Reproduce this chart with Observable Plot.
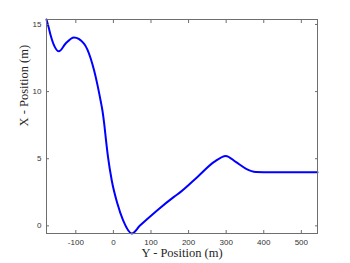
<!DOCTYPE html>
<html>
<head>
<meta charset="utf-8">
<script src="https://cdn.jsdelivr.net/npm/d3@7"></script>
<script src="https://cdn.jsdelivr.net/npm/@observablehq/plot@0.6"></script>
<style>
  html, body { margin: 0; padding: 0; background: #fff; }
  #chart svg { display: block; }
</style>
</head>
<body>
<div id="chart"></div>
<script>
// Trajectory: Y-position (horizontal) and X-position (vertical)
const yPos = [-178, -172, -167, -156, -145, -127, -105, -78.3, -60.4, -51.6, -42.3, -34.3, -29.3, -24.5, -19.7, -14.4, -4.5, 10.6, 25.6, 49, 70, 117, 161, 179, 223.6, 268, 299, 325.5, 352, 379, 420, 543];
const xPos = [15.37, 14.75, 14.2, 13.33, 13.0, 13.58, 14.03, 13.58, 12.47, 11.6, 10.48, 9.36, 8.61, 7.62, 6.38, 5.13, 3.4, 1.66, 0.42, -0.57, 0.0, 1.17, 2.16, 2.53, 3.64, 4.76, 5.21, 4.76, 4.27, 4.02, 4.0, 4.0];
const xTicks = [-100, 0, 100, 200, 300, 400, 500];
const yTicks = [0, 5, 10, 15];
const xLabel = "Y - Position (m)";
const yLabel = "X - Position (m)";

const data = yPos.map((v, i) => ({y: v, x: xPos[i]}));
const axisColor = "#6e6e6e";
const textColor = "#333";
const fmt = d => String(d);

const chart = Plot.plot({
  width: 350,
  height: 263,
  marginLeft: 46,
  marginRight: 33,
  marginTop: 19,
  marginBottom: 30,
  style: {fontFamily: "'Liberation Sans', Arial, sans-serif", fontSize: "8px", color: textColor, background: "#fff"},
  x: {domain: [-178, 543]},
  y: {domain: [-0.57, 15.37]},
  marks: [
    Plot.line(data, {x: "y", y: "x", stroke: "#0000ff", strokeWidth: 2, curve: "monotone-x"}),
    Plot.frame({stroke: axisColor, strokeWidth: 1}),
    Plot.axisX({anchor: "bottom", ticks: xTicks, tickSize: -3, tickPadding: 9, tickFormat: fmt, stroke: axisColor, label: null, fill: textColor}),
    Plot.axisX({anchor: "top", ticks: xTicks, tickSize: -3, tickFormat: () => "", stroke: axisColor, label: null}),
    Plot.axisY({anchor: "left", ticks: yTicks, tickSize: -3, tickPadding: 8, tickFormat: fmt, stroke: axisColor, label: null, fill: textColor}),
    Plot.axisY({anchor: "right", ticks: yTicks, tickSize: -3, tickFormat: () => "", stroke: axisColor, label: null}),
    Plot.text([xLabel], {frameAnchor: "bottom", dy: 23.5, fontFamily: "'Liberation Serif', serif", fontSize: 12.5, fill: "#262626"}),
    Plot.text([yLabel], {frameAnchor: "left", dx: -23, rotate: -90, fontFamily: "'Liberation Serif', serif", fontSize: 12.5, fill: "#262626"})
  ]
});
document.getElementById("chart").appendChild(chart);
</script>
</body>
</html>
